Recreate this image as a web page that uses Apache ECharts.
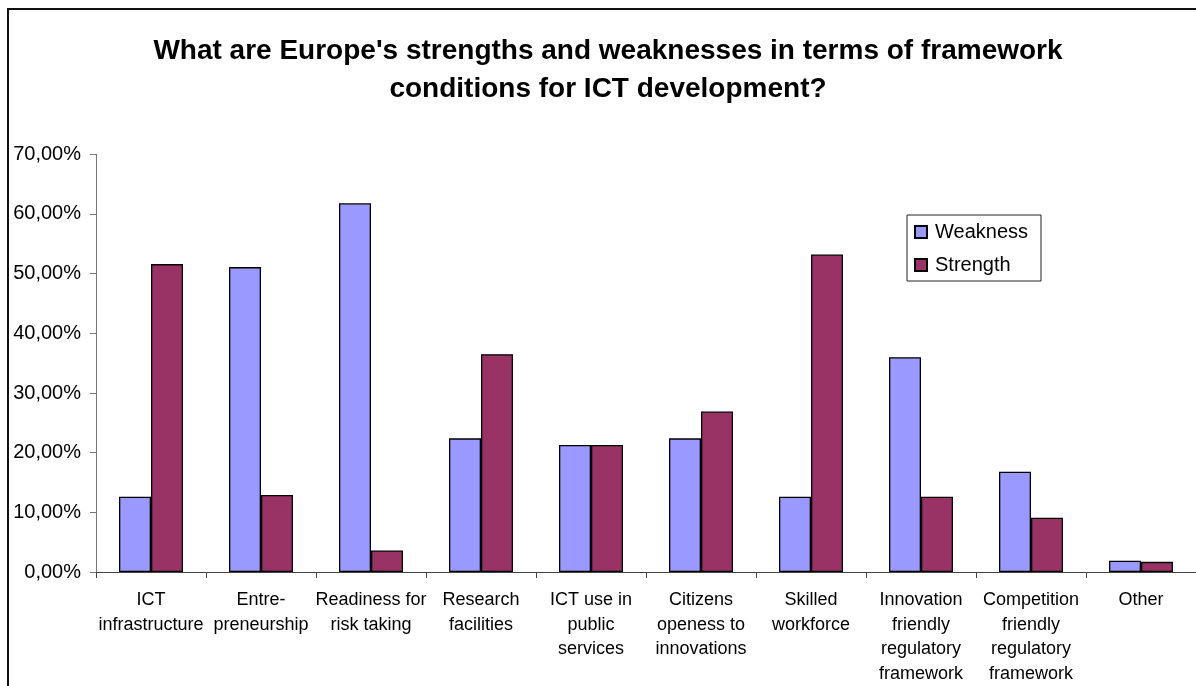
<!DOCTYPE html>
<html>
<head>
<meta charset="utf-8">
<script src="https://cdn.jsdelivr.net/npm/echarts@6/dist/echarts.min.js"></script>
<style>
  html, body { margin: 0; padding: 0; background: #fff; }
  #chart { width: 1196px; height: 686px; }
</style>
</head>
<body>
<div id="chart"></div>
<script>
// Survey answers: share of respondents naming each framework condition
const categories = [
  'ICT\ninfrastructure',
  'Entre-\npreneurship',
  'Readiness for\nrisk taking',
  'Research\nfacilities',
  'ICT use in\npublic\nservices',
  'Citizens\nopeness to\ninnovations',
  'Skilled\nworkforce',
  'Innovation\nfriendly\nregulatory\nframework',
  'Competition\nfriendly\nregulatory\nframework',
  'Other'
];
const weakness = [0.126, 0.511, 0.618, 0.224, 0.213, 0.224, 0.126, 0.360, 0.168, 0.019];
const strength = [0.516, 0.129, 0.036, 0.365, 0.213, 0.269, 0.532, 0.126, 0.091, 0.017];
const yTicks = { min: 0, max: 0.7, interval: 0.1 };

const FONT = '"Liberation Sans", Arial, Helvetica, sans-serif';

const chart = echarts.init(document.getElementById('chart'), null, { renderer: 'canvas' });
chart.setOption({
  backgroundColor: '#ffffff',
  animation: false,
  textStyle: { fontFamily: FONT, color: '#000' },
  title: {
    text: "What are Europe's strengths and weaknesses in terms of framework\nconditions for ICT development?",
    left: 603,
    top: 27,
    textAlign: 'center',
    textStyle: {
      fontFamily: FONT,
      fontSize: 28,
      fontWeight: 'bold',
      color: '#000',
      lineHeight: 38
    }
  },
  legend: {
    orient: 'vertical',
    left: 907,
    top: 215,
    padding: [7, 13, 6, 7],
    itemGap: 13,
    itemWidth: 12,
    itemHeight: 12,
    icon: 'rect',
    borderColor: '#222',
    borderWidth: 1,
    backgroundColor: '#fff',
    textStyle: { fontFamily: FONT, fontSize: 20, color: '#000', padding: [0, 0, 0, 3] },
    data: ['Weakness', 'Strength']
  },
  grid: { left: 96, right: 0, top: 154.3, bottom: 112.7, containLabel: false },
  xAxis: {
    type: 'category',
    data: categories,
    axisLine: { lineStyle: { color: '#444', width: 1 } },
    axisTick: { show: true, alignWithLabel: false, length: 6, lineStyle: { color: '#444' } },
    axisLabel: {
      interval: 0,
      margin: 16,
      fontFamily: FONT,
      fontSize: 18,
      lineHeight: 24.5,
      color: '#000'
    }
  },
  yAxis: {
    type: 'value',
    min: yTicks.min,
    max: yTicks.max,
    interval: yTicks.interval,
    axisLine: { show: true, lineStyle: { color: '#777', width: 1 } },
    axisTick: { show: true, length: 6, lineStyle: { color: '#777' } },
    splitLine: { show: false },
    axisLabel: {
      margin: 15,
      fontFamily: FONT,
      fontSize: 20,
      color: '#000',
      formatter: v => (v * 100).toFixed(2).replace('.', ',') + '%'
    }
  },
  series: [
    {
      name: 'Weakness',
      type: 'bar',
      data: weakness,
      barWidth: 32,
      barGap: '0%',
      itemStyle: { color: '#9999FF', borderColor: '#000', borderWidth: 1.3 }
    },
    {
      name: 'Strength',
      type: 'bar',
      data: strength,
      barWidth: 32,
      itemStyle: { color: '#993366', borderColor: '#000', borderWidth: 1.3 }
    }
  ],
  graphic: [
    {
      type: 'polyline',
      shape: { points: [[8, 686], [8, 9], [1196, 9]] },
      style: { stroke: '#111', lineWidth: 2, fill: null },
      silent: true
    }
  ]
});
</script>
</body>
</html>
